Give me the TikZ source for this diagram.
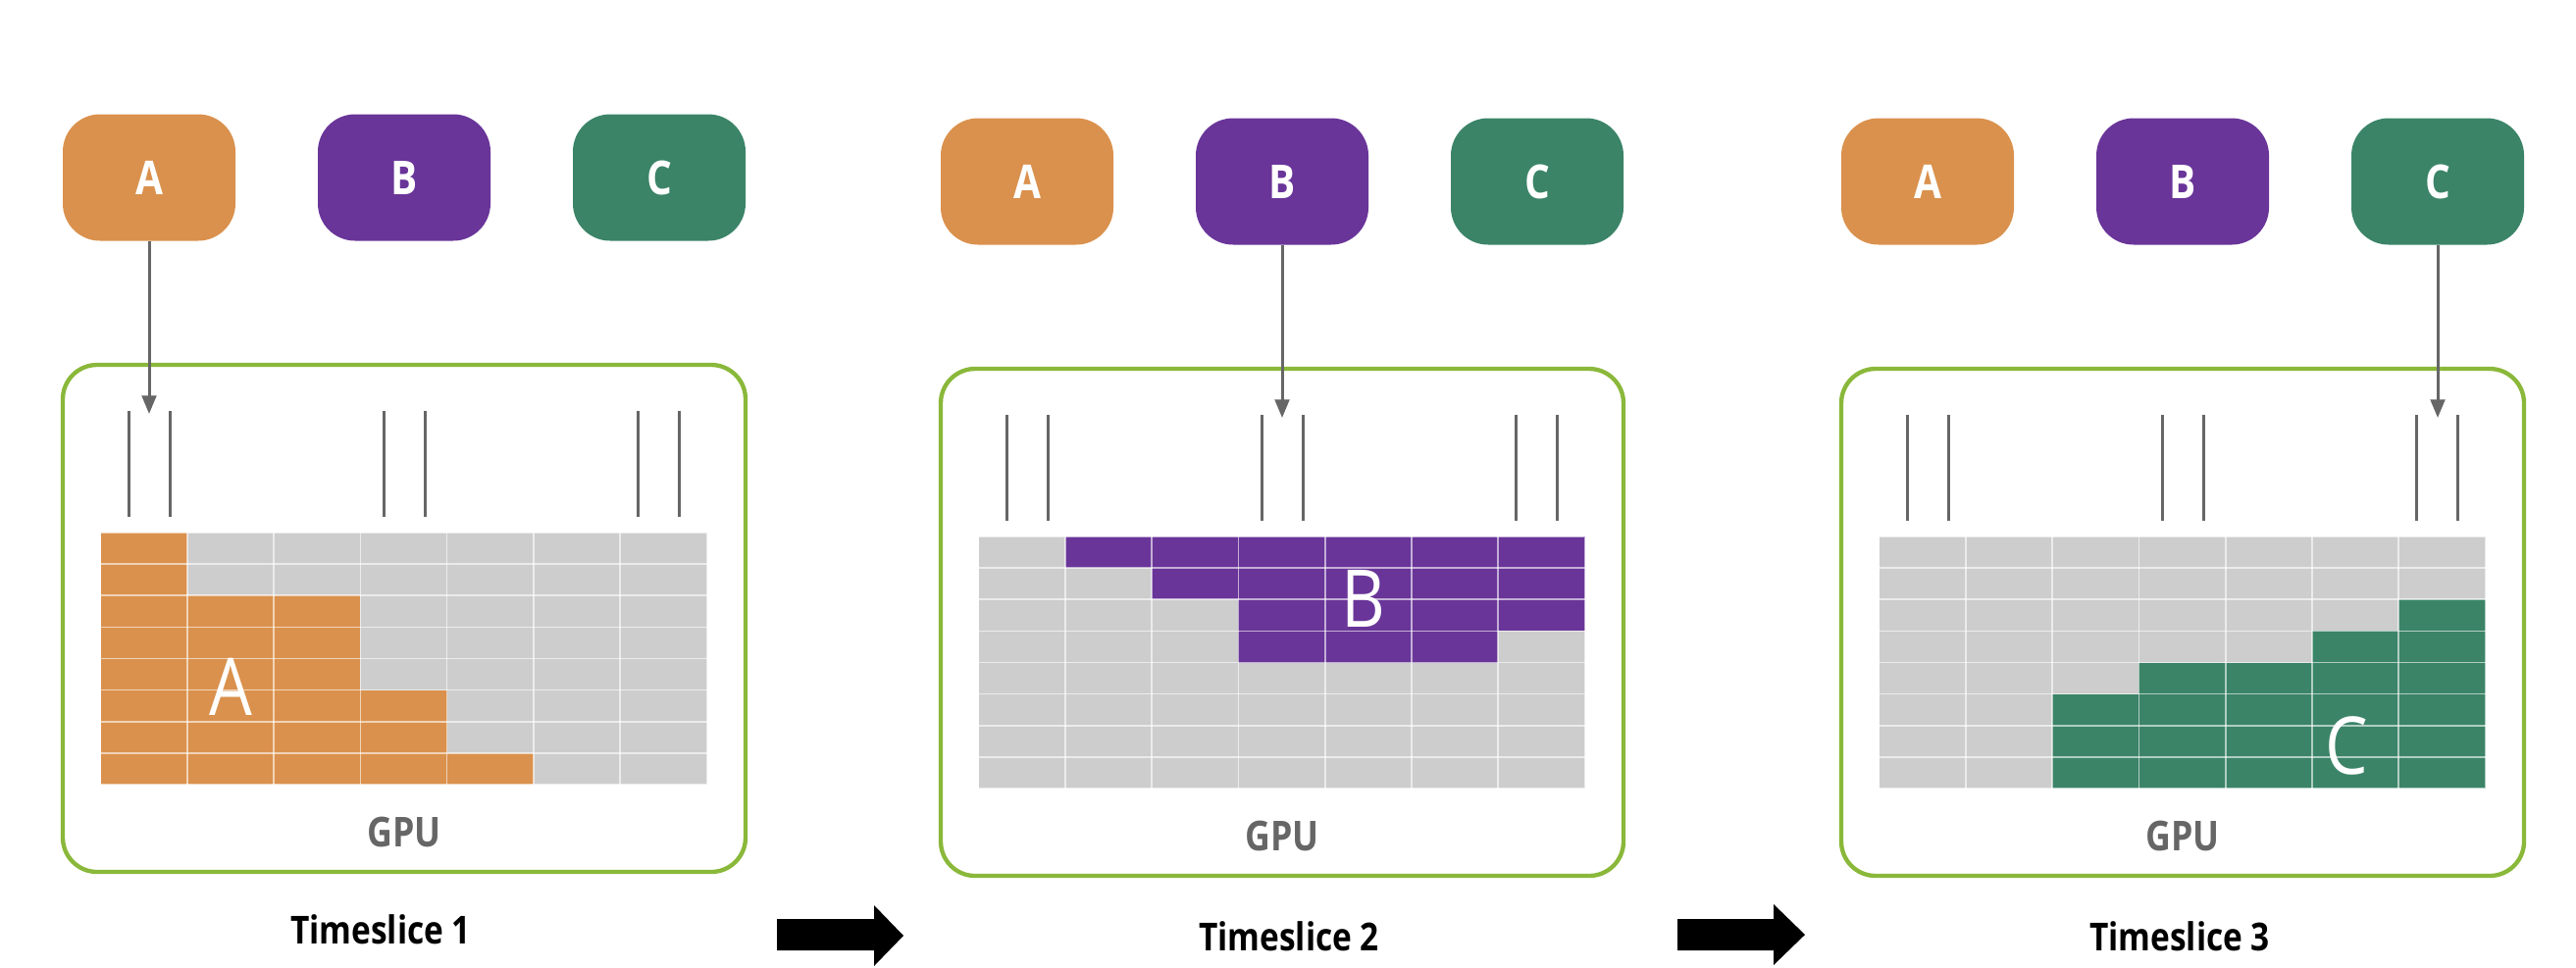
\documentclass[tikz,border=0pt]{standalone}
\usepackage{fontspec}
\setmainfont{Open Sans}[FakeStretch=0.85]
\usetikzlibrary{arrows.meta}
\definecolor{cA}{HTML}{DA914D}
\definecolor{cB}{HTML}{693599}
\definecolor{cC}{HTML}{3B8468}
\definecolor{gpuborder}{HTML}{8AB83A}
\definecolor{cellgray}{HTML}{CDCDCD}
\definecolor{ink}{HTML}{666666}
\tikzset{
  job/.style={rounded corners=11.4pt, minimum width=52.8pt, minimum height=38.7pt,
    inner sep=0pt, text=white, font=\bfseries\fontsize{14.3}{16}\selectfont},
  gpubox/.style={draw=gpuborder, line width=1.3pt, rounded corners=10.5pt,
    minimum width=208.8pt, minimum height=155.1pt, inner sep=0pt},
  slot/.style={draw=ink, line width=0.9pt},
  feed/.style={draw=ink, line width=0.9pt, -{Triangle[length=5.6pt,width=4.4pt]}},
  gridline/.style={draw=white, draw opacity=0.6, line width=0.5pt},
  bigletter/.style={inner sep=0pt, text=white, font=\fontsize{24.4}{28}\selectfont},
  gpulabel/.style={inner sep=0pt, text=ink, font=\bfseries\fontsize{12.6}{14}\selectfont},
  slicelabel/.style={inner sep=0pt, text=black, font=\bfseries\fontsize{11.8}{14}\selectfont},
  blockarrow/.style={fill=black}
}
\begin{document}
\begin{tikzpicture}[x=0.3pt,y=-0.3pt]
\useasboundingbox (0,0) rectangle (2626,986);
\fill[white] (0,0) rectangle (2626,986);

% ---------- Panel 1 ----------
\begin{scope}[shift={(64,372)}]
  \node[job, fill=cA] (p1A) at (88,-191) {A};
  \node[job, fill=cB] (p1B) at (348,-191) {B};
  \node[job, fill=cC] (p1C) at (608,-191) {C};
  \node[gpubox] (p1gpu) at (348,258.5) {};
  \foreach \x in {67.5,109.5,327,369,586.5,628.5}
    \draw[slot] (\x,47) -- (\x,155);
  \fill[cellgray] (38.5,171) rectangle (656.5,428);
  \foreach \r/\s/\e in {1/1/1,2/1/1,3/1/3,4/1/3,5/1/3,6/1/4,7/1/4,8/1/5}
    \fill[cA] ({38.5+(\s-1)*88.2857},{171+(\r-1)*32.125}) rectangle ({38.5+\e*88.2857},{171+\r*32.125});
  \foreach \i in {1,...,6}
    \draw[gridline] ({38.5+\i*88.2857},171) -- ++(0,257);
  \foreach \j in {1,...,7}
    \draw[gridline] (38.5,{171+\j*32.125}) -- ++(618,0);
  \draw[gridline] (38.5,171) rectangle (656.5,428);
  \node[bigletter] (p1L) at (171,328) {A};
  \node[gpulabel] (p1G) at (348,476) {GPU};
  \coordinate (p1T) at (88,50);
  \draw[feed] (p1A.south) -- (p1T);
\end{scope}

% ---------- Panel 2 ----------
\begin{scope}[shift={(959,376)}]
  \node[job, fill=cA] (p2A) at (88,-191) {A};
  \node[job, fill=cB] (p2B) at (348,-191) {B};
  \node[job, fill=cC] (p2C) at (608,-191) {C};
  \node[gpubox] (p2gpu) at (348,258.5) {};
  \foreach \x in {67.5,109.5,327,369,586.5,628.5}
    \draw[slot] (\x,47) -- (\x,155);
  \fill[cellgray] (38.5,171) rectangle (656.5,428);
  \foreach \r/\s/\e in {1/2/7,2/3/7,3/4/7,4/4/6}
    \fill[cB] ({38.5+(\s-1)*88.2857},{171+(\r-1)*32.125}) rectangle ({38.5+\e*88.2857},{171+\r*32.125});
  \foreach \i in {1,...,6}
    \draw[gridline] ({38.5+\i*88.2857},171) -- ++(0,257);
  \foreach \j in {1,...,7}
    \draw[gridline] (38.5,{171+\j*32.125}) -- ++(618,0);
  \draw[gridline] (38.5,171) rectangle (656.5,428);
  \node[bigletter] (p2L) at (431,234) {B};
  \node[gpulabel] (p2G) at (348,476) {GPU};
  \coordinate (p2T) at (348,50);
  \draw[feed] (p2B.south) -- (p2T);
\end{scope}

% ---------- Panel 3 ----------
\begin{scope}[shift={(1877,376)}]
  \node[job, fill=cA] (p3A) at (88,-191) {A};
  \node[job, fill=cB] (p3B) at (348,-191) {B};
  \node[job, fill=cC] (p3C) at (608,-191) {C};
  \node[gpubox] (p3gpu) at (348,258.5) {};
  \foreach \x in {67.5,109.5,327,369,586.5,628.5}
    \draw[slot] (\x,47) -- (\x,155);
  \fill[cellgray] (38.5,171) rectangle (656.5,428);
  \foreach \r/\s/\e in {3/7/7,4/6/7,5/4/7,6/3/7,7/3/7,8/3/7}
    \fill[cC] ({38.5+(\s-1)*88.2857},{171+(\r-1)*32.125}) rectangle ({38.5+\e*88.2857},{171+\r*32.125});
  \foreach \i in {1,...,6}
    \draw[gridline] ({38.5+\i*88.2857},171) -- ++(0,257);
  \foreach \j in {1,...,7}
    \draw[gridline] (38.5,{171+\j*32.125}) -- ++(618,0);
  \draw[gridline] (38.5,171) rectangle (656.5,428);
  \node[bigletter] (p3L) at (515,384) {C};
  \node[gpulabel] (p3G) at (348,476) {GPU};
  \coordinate (p3T) at (608,50);
  \draw[feed] (p3C.south) -- (p3T);
\end{scope}

% ---------- Timeslice labels ----------
\node[slicelabel] (ts1) at (388,948) {Timeslice 1};
\node[slicelabel] (ts2) at (1314,955) {Timeslice 2};
\node[slicelabel] (ts3) at (2222,955) {Timeslice 3};

% ---------- Block arrows ----------
\fill[blockarrow] (792,937) -- (891,937) -- (891,923) -- (921,954) -- (891,985) -- (891,969) -- (792,969) -- cycle;
\fill[blockarrow] (1710,937) -- (1808,937) -- (1808,922) -- (1840,953) -- (1808,984) -- (1808,969) -- (1710,969) -- cycle;
\end{tikzpicture}
\end{document}
